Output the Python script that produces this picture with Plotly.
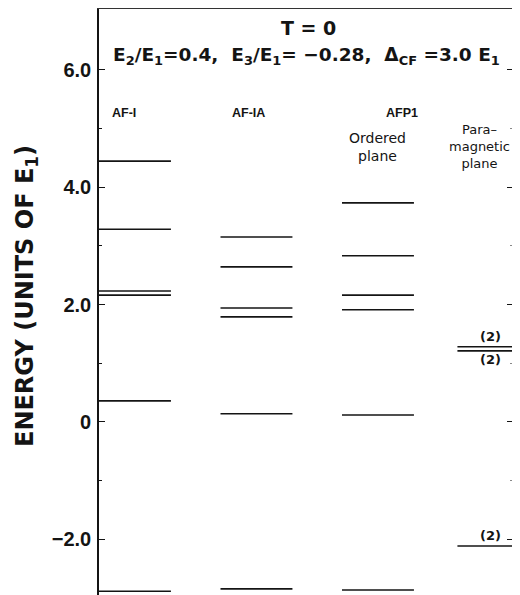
import plotly.graph_objects as go

# ---- data (energies in units of E1) ----
columns = ["AF-I", "AF-IA", "AFP1 ordered plane", "AFP1 paramagnetic plane"]
levels_af1 = [4.44, 3.28, 2.23, 2.16, 0.36, -2.88]
levels_af1a = [3.15, 2.64, 1.94, 1.79, 0.14, -2.84]
levels_afp1_ordered = [3.73, 2.83, 2.16, 1.91, 0.12, -2.86]
levels_afp1_para = [1.28, 1.21, -2.11]
para_degeneracy = ["(2)", "(2)", "(2)"]
major_ticks = [-2, 0, 2, 4, 6]
major_labels = ["\u22122.0", "0", "2.0", "4.0", "6.0"]
minor_ticks = [-1, 1, 3, 5]

# ---- layout helpers ----
centers = [0.0, 1.0, 2.0, 2.95]
half_w = 0.296
OFF = 8                      # page body margin
W, H = 520, 595
ML, MR, MT, MB = 99 - OFF, 2 * OFF, 9 - OFF, OFF
PW, PH = W - ML - MR, H - MT - MB
COL_PX = 121.5               # pixels between column centres
X0 = -half_w
XR = [X0, X0 + PW / COL_PX]
SANS = "Liberation Sans, Arial, sans-serif"
WIDE = "DejaVu Sans, Verdana, sans-serif"
INK = "#141414"


def px(xp):
    """page pixel x -> paper"""
    return (xp - OFF - ML) / PW


def py(yp):
    """page pixel y -> paper"""
    return (H - MB - (yp - OFF)) / PH


fig = go.Figure()
all_levels = [levels_af1, levels_af1a, levels_afp1_ordered, levels_afp1_para]
for name, c, lv in zip(columns, centers, all_levels):
    xs, ys = [], []
    for e in lv:
        xs += [c - half_w, c + half_w, None]
        ys += [e, e, None]
    fig.add_trace(go.Scatter(x=xs, y=ys, mode="lines", name=name,
                             line=dict(color=INK, width=1.6),
                             showlegend=False, hoverinfo="skip"))

fig.add_trace(go.Scatter(x=[0], y=[0], yaxis="y2", mode="markers",
                         marker=dict(opacity=0), showlegend=False, hoverinfo="skip"))

yr = [-2.945, 7.03]
fig.update_layout(
    width=W, height=H,
    margin=dict(l=ML, r=MR, t=MT, b=MB, autoexpand=False),
    paper_bgcolor="white", plot_bgcolor="white",
    font=dict(family=SANS, color=INK),
    xaxis=dict(range=XR, showgrid=False, zeroline=False,
               showticklabels=False, ticks="", showline=True, side="top",
               linecolor="#333", linewidth=1.2, automargin=False),
    yaxis=dict(range=yr, showgrid=False, zeroline=False, showline=True,
               linecolor=INK, linewidth=1.6, ticks="inside", ticklen=6,
               tickwidth=1.4, tickcolor=INK, automargin=False,
               tickvals=major_ticks, ticktext=major_labels,
               tickfont=dict(size=20, family=SANS, weight="bold", color=INK),
               ticklabelstandoff=2,
               minor=dict(tickvals=minor_ticks, ticks="inside", ticklen=3,
                          tickwidth=1.2, tickcolor=INK)),
    yaxis2=dict(range=yr, overlaying="y", side="right", showgrid=False,
                zeroline=False, showline=False, showticklabels=False,
                automargin=False,
                ticks="inside", ticklen=5, tickwidth=1.4, tickcolor=INK,
                tickvals=major_ticks,
                minor=dict(tickvals=minor_ticks, ticks="inside", ticklen=2,
                           tickwidth=1.0, tickcolor="#888")),
)

ann = []


def note(text, x, y, size, family=SANS, bold=True, xref="paper", yref="paper",
         yshift=0, angle=0):
    ann.append(dict(text=text, x=x, y=y, xref=xref, yref=yref, yshift=yshift,
                    xanchor="center", yanchor="middle", showarrow=False,
                    textangle=angle,
                    font=dict(size=size, family=family,
                              weight="bold" if bold else "normal", color=INK)))


# titles
note("T = 0", px(308), py(28), 19, WIDE)
line2 = ("E<sub>2</sub>/E<sub>1</sub>=0.4,\u00a0\u00a0E<sub>3</sub>/E<sub>1</sub>=\u00a0\u22120.28,"
         "\u00a0\u00a0\u0394<sub>CF</sub>\u00a0=3.0\u00a0E<sub>1</sub>")
note(line2, px(306), py(56), 18.5, WIDE)
# y title
note("ENERGY (UNITS OF E<sub>1</sub>)", px(26), py(296), 24, WIDE, angle=-90)
# column labels
note("AF-I", px(124), py(113), 12.5)
note("AF-IA", px(248), py(113), 12.5)
note("AFP1", px(402), py(113), 12.5)
note("Ordered<br>plane", centers[2], py(147), 14, WIDE, bold=False, xref="x")
note("Para\u2013<br>magnetic<br>plane", px(479), py(146), 13, WIDE, bold=False)
# degeneracy labels
shifts = [10, -9, 10]
for e, lab, s in zip(levels_afp1_para, para_degeneracy, shifts):
    note(lab, px(490), e, 13, WIDE, yref="y", yshift=s)
fig.update_layout(annotations=ann)

fig.write_html("out.html")
